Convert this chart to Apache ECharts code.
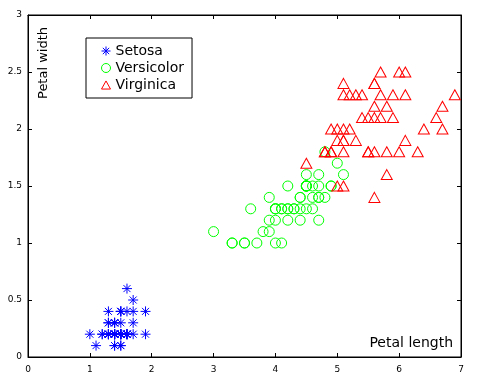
<!DOCTYPE html>
<html><head><meta charset="utf-8">
<script src="https://cdn.jsdelivr.net/npm/echarts@6/dist/echarts.min.js"></script>
<style>html,body{margin:0;padding:0;background:#fff}#c{width:484px;height:382px}</style>
</head><body><div id="c"></div>
<script>
const xTicks = [0,1,2,3,4,5,6,7];
const yTicks = [0,0.5,1,1.5,2,2.5,3];
const setosa = [[1.4,0.2],[1.4,0.2],[1.3,0.2],[1.5,0.2],[1.4,0.2],[1.7,0.4],[1.4,0.3],[1.5,0.2],[1.4,0.2],[1.5,0.1],
[1.5,0.2],[1.6,0.2],[1.4,0.1],[1.1,0.1],[1.2,0.2],[1.5,0.4],[1.3,0.4],[1.4,0.3],[1.7,0.3],[1.5,0.3],
[1.7,0.2],[1.5,0.4],[1.0,0.2],[1.7,0.5],[1.9,0.2],[1.6,0.2],[1.6,0.4],[1.5,0.2],[1.4,0.2],[1.6,0.2],
[1.6,0.2],[1.5,0.4],[1.5,0.1],[1.4,0.2],[1.5,0.2],[1.2,0.2],[1.3,0.2],[1.4,0.1],[1.3,0.2],[1.5,0.2],
[1.3,0.3],[1.3,0.3],[1.3,0.2],[1.6,0.6],[1.9,0.4],[1.4,0.3],[1.6,0.2],[1.4,0.2],[1.5,0.2],[1.4,0.2]];
const versicolor = [[4.7,1.4],[4.5,1.5],[4.9,1.5],[4.0,1.3],[4.6,1.5],[4.5,1.3],[4.7,1.6],[3.3,1.0],[4.6,1.3],[3.9,1.4],
[3.5,1.0],[4.2,1.5],[4.0,1.0],[4.7,1.4],[3.6,1.3],[4.4,1.4],[4.5,1.5],[4.1,1.0],[4.5,1.5],[3.9,1.1],
[4.8,1.8],[4.0,1.3],[4.9,1.5],[4.7,1.2],[4.3,1.3],[4.4,1.4],[4.8,1.4],[5.0,1.7],[4.5,1.5],[3.5,1.0],
[3.8,1.1],[3.7,1.0],[3.9,1.2],[5.1,1.6],[4.5,1.5],[4.5,1.6],[4.7,1.5],[4.4,1.3],[4.1,1.3],[4.0,1.3],
[4.4,1.2],[4.6,1.4],[4.0,1.2],[3.3,1.0],[4.2,1.3],[4.2,1.2],[4.2,1.3],[4.3,1.3],[3.0,1.1],[4.1,1.3]];
const virginica = [[6.0,2.5],[5.1,1.9],[5.9,2.1],[5.6,1.8],[5.8,2.2],[6.6,2.1],[4.5,1.7],[6.3,1.8],[5.8,1.8],[6.1,2.5],
[5.1,2.0],[5.3,1.9],[5.5,2.1],[5.0,2.0],[5.1,2.4],[5.3,2.3],[5.5,1.8],[6.7,2.2],[6.9,2.3],[5.0,1.5],
[5.7,2.3],[4.9,2.0],[6.7,2.0],[4.9,1.8],[5.7,2.1],[6.0,1.8],[4.8,1.8],[4.9,1.8],[5.6,2.1],[5.8,1.6],
[6.1,1.9],[6.4,2.0],[5.6,2.2],[5.1,1.5],[5.6,1.4],[6.1,2.3],[5.6,2.4],[5.5,1.8],[4.8,1.8],[5.4,2.1],
[5.6,2.4],[5.1,2.3],[5.1,1.9],[5.9,2.3],[5.7,2.5],[5.2,2.3],[5.0,1.9],[5.2,2.0],[5.4,2.3],[5.1,1.8]];

const FONT = 'DejaVu Sans';
const asterisk = 'path://M5,0L5,10M0,5L10,5M1.5,1.5L8.5,8.5M1.5,8.5L8.5,1.5';
const triangle = 'path://M5,0L10,9L0,9Z';
const chart = echarts.init(document.getElementById('c'), null, {renderer:'canvas'});
const tickLbl = {fontFamily: FONT, fontSize: 9, color: '#000'};
function xAx(pos, show){ return {type:'value', position:pos, min:xTicks[0], max:xTicks[xTicks.length-1], interval:1,
  axisLine:{show:true, onZero:false, lineStyle:{color:'#000', width:1}},
  axisTick:{show:true, inside:true, length:4, lineStyle:{color:'#000'}},
  axisLabel:Object.assign({show:show, margin:8}, tickLbl), splitLine:{show:false}}; }
function yAx(pos, show){ return {type:'value', position:pos, min:yTicks[0], max:yTicks[yTicks.length-1], interval:0.5,
  axisLine:{show:true, onZero:false, lineStyle:{color:'#000', width:1}},
  axisTick:{show:true, inside:true, length:4, lineStyle:{color:'#000'}},
  axisLabel:Object.assign({show:show, margin:6, formatter: v => String(v)}, tickLbl), splitLine:{show:false}}; }
chart.setOption({
  animation:false,
  backgroundColor:'#fff',
  grid:{left:28, right:23, top:15, bottom:25, show:true, borderColor:'#000', borderWidth:1, backgroundColor:'transparent'},
  xAxis:[xAx('bottom', true), xAx('top', false)],
  yAxis:[yAx('left', true), yAx('right', false)],
  legend:{
    orient:'vertical', left:86, top:38,
    borderColor:'#000', borderWidth:1, padding:[6, 8, 6, 13], itemGap:3,
    itemWidth:9, itemHeight:9,
    itemStyle:{borderWidth:1},
    textStyle:{fontFamily:FONT, fontSize:14, color:'#000'},
    data:['Setosa','Versicolor','Virginica']
  },
  series:[
    {name:'Setosa', type:'scatter', data:setosa, symbol:asterisk, symbolSize:10,
     itemStyle:{color:'none', borderColor:'#0000ff', borderWidth:1, opacity:1}},
    {name:'Versicolor', type:'scatter', data:versicolor, symbol:'circle', symbolSize:10,
     itemStyle:{color:'none', borderColor:'#00ff00', borderWidth:1, opacity:1}},
    {name:'Virginica', type:'scatter', data:virginica, symbol:triangle, symbolSize:[11,10],
     itemStyle:{color:'none', borderColor:'#ff0000', borderWidth:1, opacity:1}},
    {name:'_mirror', type:'scatter', xAxisIndex:1, yAxisIndex:1, data:[], silent:true}
  ],
  graphic:[
    {type:'text', x:453, y:343, style:{text:'Petal length', fontFamily:FONT, fontSize:14, fill:'#000', align:'right', verticalAlign:'middle'}},
    {type:'text', x:37, y:99, rotation:Math.PI/2, style:{text:'Petal width', fontFamily:FONT, fontSize:13, fill:'#000', align:'left', verticalAlign:'top'}}
  ]
});
</script></body></html>
